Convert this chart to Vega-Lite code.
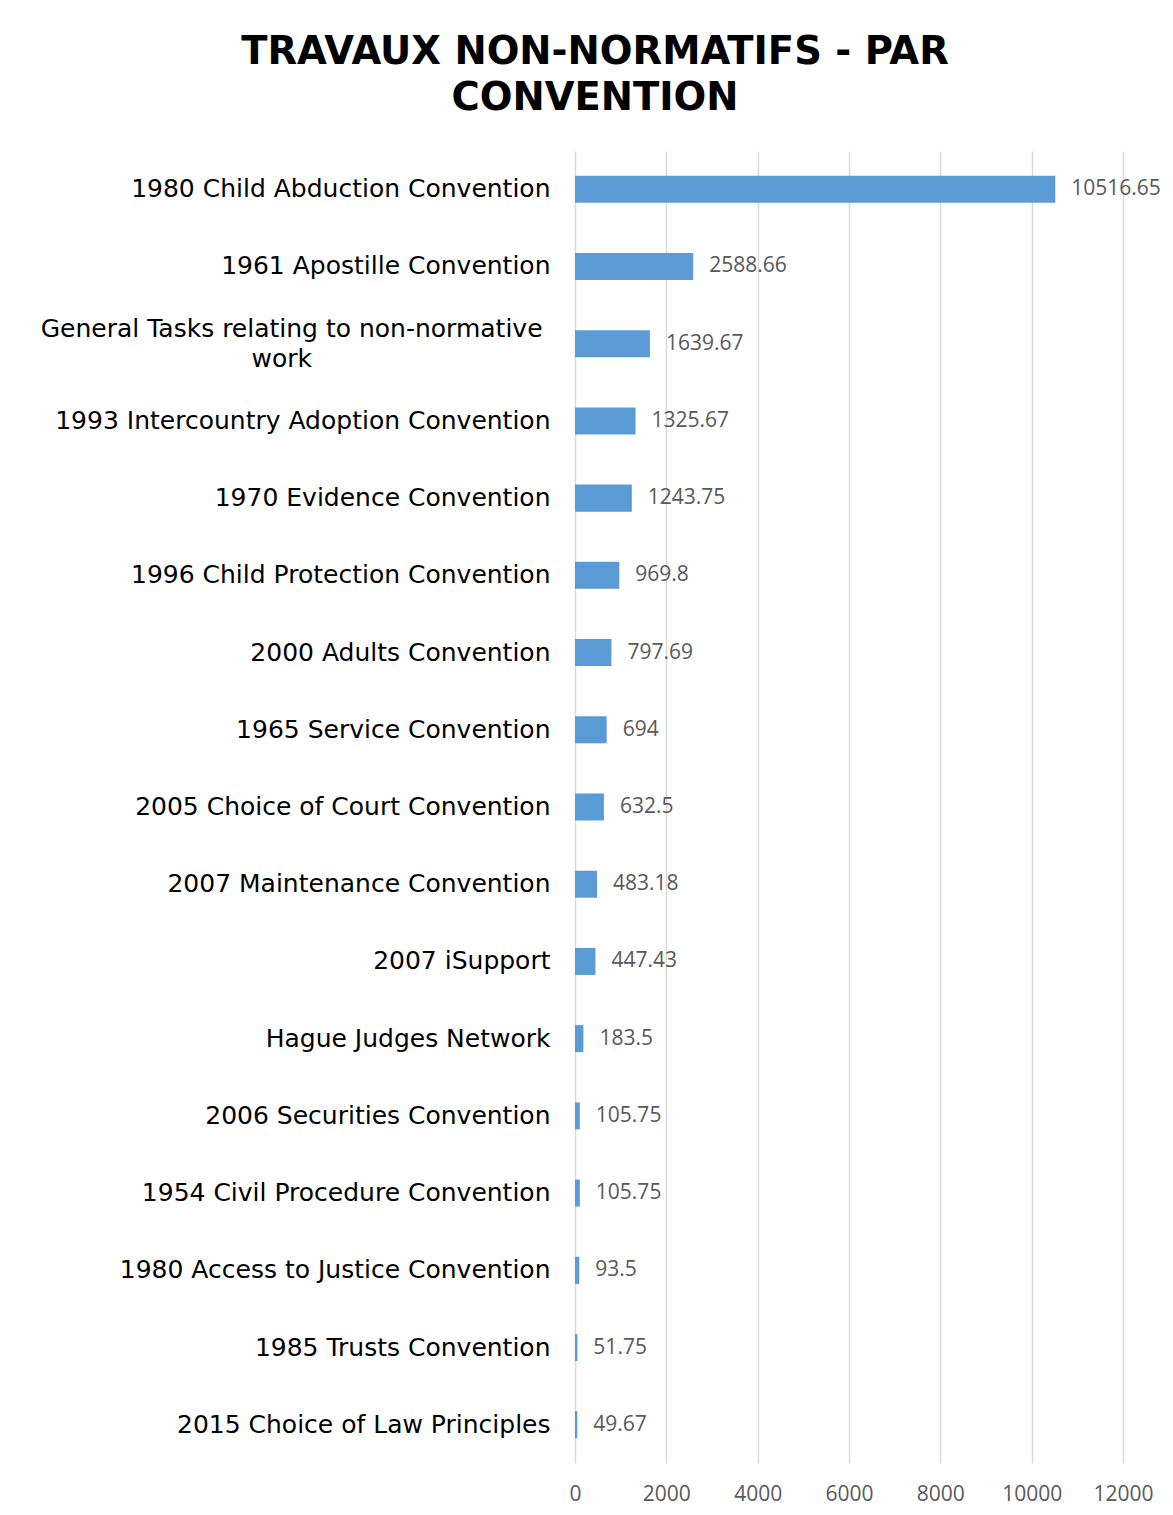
{
  "$schema": "https://vega.github.io/schema/vega-lite/v6.json",
  "autosize": {"type": "none"},
  "padding": {"left": 575, "top": 151, "right": 50, "bottom": 52},
  "width": 548,
  "height": 1312,
  "background": "white",
  "title": {
    "text": ["TRAVAUX NON-NORMATIFS - PAR", "CONVENTION"],
    "font": "DejaVu Sans",
    "fontSize": 38.5,
    "fontWeight": "bold",
    "color": "#000000",
    "lineHeight": 46,
    "anchor": "middle",
    "frame": "group",
    "dx": -254,
    "offset": 33
  },
  "data": {
    "values": [
      {"convention": "1980 Child Abduction Convention", "hours": 10516.65},
      {"convention": "1961 Apostille Convention", "hours": 2588.66},
      {"convention": "General Tasks relating to non-normative work", "hours": 1639.67},
      {"convention": "1993 Intercountry Adoption Convention", "hours": 1325.67},
      {"convention": "1970 Evidence Convention", "hours": 1243.75},
      {"convention": "1996 Child Protection Convention", "hours": 969.8},
      {"convention": "2000 Adults Convention", "hours": 797.69},
      {"convention": "1965 Service Convention", "hours": 694},
      {"convention": "2005 Choice of Court Convention", "hours": 632.5},
      {"convention": "2007 Maintenance Convention", "hours": 483.18},
      {"convention": "2007 iSupport", "hours": 447.43},
      {"convention": "Hague Judges Network", "hours": 183.5},
      {"convention": "2006 Securities Convention", "hours": 105.75},
      {"convention": "1954 Civil Procedure Convention", "hours": 105.75},
      {"convention": "1980 Access to Justice Convention", "hours": 93.5},
      {"convention": "1985 Trusts Convention", "hours": 51.75},
      {"convention": "2015 Choice of Law Principles", "hours": 49.67}
    ]
  },
  "encoding": {
    "y": {
      "field": "convention",
      "type": "nominal",
      "sort": null,
      "scale": {"paddingInner": 0.65, "paddingOuter": 0.32},
      "axis": {
        "title": null,
        "domain": false,
        "ticks": false,
        "labelPadding": 25,
        "labelFont": "DejaVu Sans",
        "labelFontSize": 25,
        "labelColor": "#000000",
        "labelLimit": 700,
        "labelLineHeight": 30,
        "labelExpr": "datum.value == 'General Tasks relating to non-normative work' ? ['General Tasks relating to non-normative\u00a0\u200b', 'work\u00a0\u00a0\u00a0\u00a0\u00a0\u00a0\u00a0\u00a0\u00a0\u00a0\u00a0\u00a0\u00a0\u00a0\u00a0\u00a0\u00a0\u00a0\u00a0\u00a0\u00a0\u00a0\u00a0\u00a0\u00a0\u00a0\u00a0\u00a0\u00a0\u00a0\u200b'] : datum.label",
        "labelOffset": {"condition": {"test": "datum.value == 'General Tasks relating to non-normative work'", "value": -15}, "value": 0}
      }
    },
    "x": {
      "field": "hours",
      "type": "quantitative",
      "scale": {"domain": [0, 12000], "nice": false},
      "axis": {
        "title": null,
        "values": [0, 2000, 4000, 6000, 8000, 10000, 12000],
        "format": "d",
        "domain": false,
        "ticks": false,
        "grid": true,
        "gridColor": "#d9d9d9",
        "gridWidth": 1.5,
        "labelFont": "Open Sans",
        "labelFontSize": 21,
        "labelColor": "#595959",
        "labelPadding": 20,
        "labelFlush": false
      }
    }
  },
  "layer": [
    {"mark": {"type": "bar", "color": "#5b9bd5"}},
    {
      "mark": {"type": "text", "align": "left", "baseline": "middle", "dx": 16, "font": "Open Sans", "fontSize": 21, "color": "#595959"},
      "encoding": {"text": {"field": "hours", "type": "quantitative", "format": ".2~f"}}
    }
  ],
  "config": {"view": {"stroke": null}}
}
